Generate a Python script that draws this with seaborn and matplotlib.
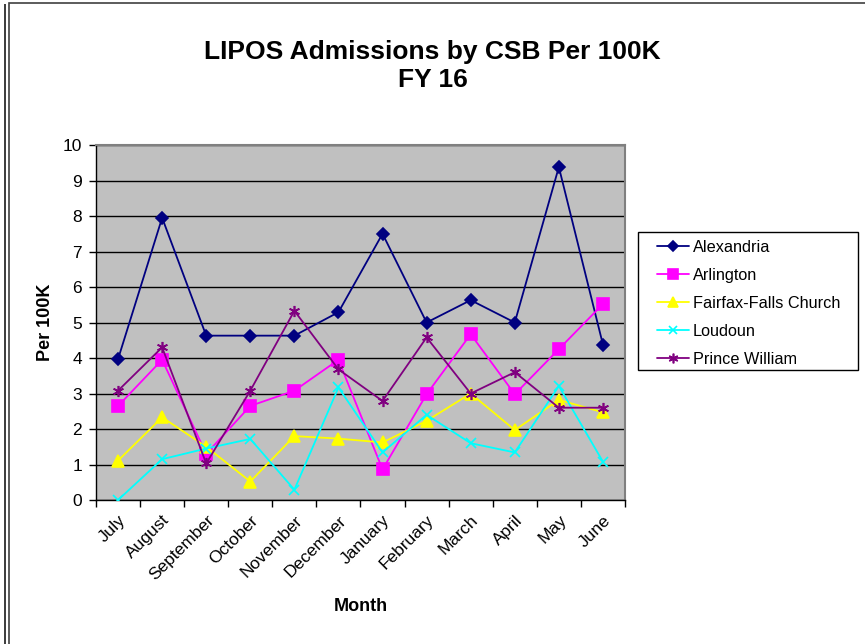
import numpy as np
import pandas as pd
import seaborn as sns
from matplotlib import pyplot as plt
from matplotlib.lines import Line2D
from matplotlib.patches import Rectangle

months = ['July', 'August', 'September', 'October', 'November', 'December',
          'January', 'February', 'March', 'April', 'May', 'June']
alexandria = [3.97, 7.95, 4.63, 4.63, 4.63, 5.29, 7.50, 5.00, 5.63, 5.00, 9.38, 4.38]
arlington = [2.65, 3.95, 1.30, 2.65, 3.08, 3.95, 0.86, 2.98, 4.67, 2.98, 4.25, 5.52]
fairfax = [1.11, 2.33, 1.50, 0.52, 1.80, 1.73, 1.62, 2.23, 3.00, 1.97, 2.82, 2.47]
loudoun = [0.00, 1.15, 1.45, 1.72, 0.29, 3.17, 1.34, 2.40, 1.60, 1.34, 3.21, 1.08]
prince_william = [3.08, 4.30, 1.03, 3.08, 5.33, 3.68, 2.79, 4.58, 3.00, 3.60, 2.60, 2.60]

series = {
    'Alexandria': (alexandria, '#000080', 'D', 6),
    'Arlington': (arlington, '#FF00FF', 's', 8),
    'Fairfax-Falls Church': (fairfax, '#FFFF00', '^', 8),
    'Loudoun': (loudoun, '#00FFFF', 'x', 7),
    'Prince William': (prince_william, '#800080', (6, 2, 0), 8),
}

sns.set_style('white')
plt.rcParams['font.family'] = ['Liberation Sans', 'DejaVu Sans']
for key in ['text.color', 'axes.labelcolor', 'xtick.color', 'ytick.color']:
    plt.rcParams[key] = 'black'

fig = plt.figure(figsize=(8.65, 6.44), dpi=100)
ax = fig.add_axes([0.111, 0.2236, 0.6115, 0.5512])
ax.set_facecolor('#C0C0C0')

x = np.arange(len(months))
handles = []
for name, (vals, color, marker, ms) in series.items():
    df = pd.DataFrame({'x': x, 'y': vals})
    sns.lineplot(data=df, x='x', y='y', ax=ax, color=color, marker=marker,
                 markersize=ms, markeredgecolor=color, markeredgewidth=1.2,
                 linewidth=1.3, legend=False, zorder=3)
    handles.append(Line2D([0], [0], color=color, marker=marker, markersize=ms - 1,
                          markeredgecolor=color, markeredgewidth=1.2, linewidth=1.3,
                          label=name))

ax.set_xlim(-0.5, len(months) - 0.5)
ax.set_ylim(0, 10)
ax.set_yticks(range(0, 11))
ax.yaxis.grid(True, color='black', linewidth=1.0)
ax.set_axisbelow(True)

ax.set_xticks(np.arange(-0.5, len(months), 1.0))
ax.set_xticklabels([])
ax.set_xticks(x, minor=True)
ax.set_xticklabels(months, minor=True, rotation=45, ha='right',
                   rotation_mode='anchor', fontsize=12.5)
ax.tick_params(axis='x', which='major', direction='out', length=5, width=1, color='black', bottom=True)
ax.tick_params(axis='x', which='minor', length=0, pad=9)
ax.tick_params(axis='y', direction='out', length=5, width=1, color='black', left=True,
               labelsize=12.5, pad=5)

for side in ['top', 'right']:
    ax.spines[side].set_color('#808080')
    ax.spines[side].set_linewidth(1.5)
for side in ['left', 'bottom']:
    ax.spines[side].set_color('black')
    ax.spines[side].set_linewidth(1.0)

ax.set_xlabel('Month', fontsize=13, fontweight='bold', labelpad=11)
ax.set_ylabel('Per 100K', fontsize=13, fontweight='bold', labelpad=6)

fig.text(0.5, 0.897, 'LIPOS Admissions by CSB Per 100K\nFY 16', ha='center', va='center',
         fontsize=19, fontweight='bold', linespacing=1.2)

# legend entries without a frame, box drawn separately (wider side padding)
leg = fig.legend(handles=handles, loc='upper left', bbox_to_anchor=(0.7595, 0.6273),
                 borderaxespad=0, frameon=False, fontsize=11.7, handlelength=2.0,
                 handletextpad=0.2, labelspacing=0.8, borderpad=0)
fig.patches.append(Rectangle((638 / 865, 1 - 370 / 644), 220 / 865, 138 / 644,
                             transform=fig.transFigure, fill=True, facecolor='white',
                             edgecolor='black', linewidth=1.0, zorder=0))

# outer chart frame
fig.patches.append(Rectangle((5 / 865, -0.1), 0.0, 1.1 - 4 / 644, transform=fig.transFigure,
                             fill=False, edgecolor='#404040', linewidth=1.2))
fig.patches.append(Rectangle((9 / 865, -0.1), 1.2, 1.1 - 3 / 644, transform=fig.transFigure,
                             fill=False, edgecolor='#404040', linewidth=1.2))

fig.savefig('out.png', dpi=100)
